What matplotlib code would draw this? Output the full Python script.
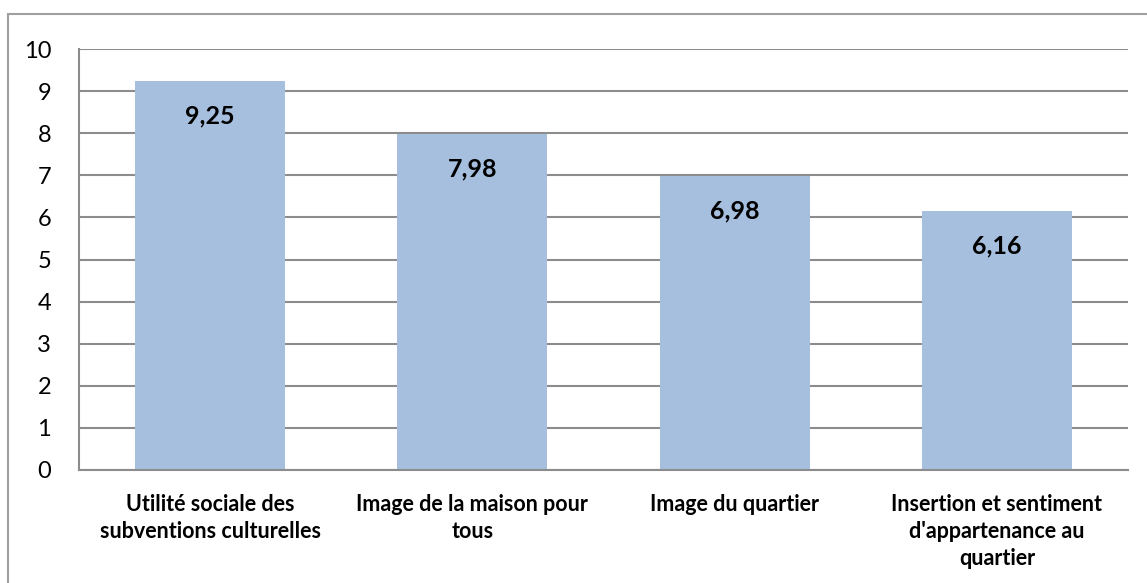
import matplotlib.pyplot as plt
from matplotlib.patches import Rectangle

categories = ["Utilité sociale des\nsubventions culturelles",
              "Image de la maison pour\ntous",
              "Image du quartier",
              "Insertion et sentiment\nd'appartenance au\nquartier"]
values = [9.25, 7.98, 6.98, 6.16]
value_labels = ["9,25", "7,98", "6,98", "6,16"]
yticks = list(range(0, 11))

plt.rcParams['font.family'] = ['Lato', 'DejaVu Sans']

fig = plt.figure(figsize=(11.47, 5.83), dpi=100)
ax = fig.add_axes([79 / 1147, 1 - 470 / 583, (1128 - 79) / 1147, (470 - 49) / 583])

# outer chart border (cut off at right and bottom like the original)
fig.patches.append(Rectangle((8 / 1147, -0.05), 1.2, 1 - 14 / 583 + 0.05,
                             transform=fig.transFigure, fill=False,
                             edgecolor='#a0a0a0', linewidth=1.5))

x = range(len(categories))
ax.bar(x, values, width=0.572, color='#a7bfde', zorder=2)

for i, v in enumerate(values):
    ax.text(i, v - 0.83, value_labels[i], ha='center', va='center',
            fontsize=18, fontweight='bold', color='black', zorder=3)

ax.set_xlim(-0.5, len(categories) - 0.5)
ax.set_ylim(0, 10)
ax.set_yticks(yticks)
ax.set_yticklabels([str(t) for t in yticks], fontsize=17)
ax.set_xticks(list(x))
ax.set_xticklabels(categories, fontsize=15.5, fontweight='bold', linespacing=1.35, va='top')
ax.tick_params(axis='y', length=0, pad=20)
ax.tick_params(axis='x', length=0, pad=17)

ax.grid(axis='y', color='#8c8c8c', linewidth=1.5, zorder=0)
ax.set_axisbelow(True)
for s in ['top', 'right']:
    ax.spines[s].set_visible(False)
for s in ['left', 'bottom']:
    ax.spines[s].set_color('#8c8c8c')
    ax.spines[s].set_linewidth(1.5)

fig.savefig('out.png', dpi=100)
